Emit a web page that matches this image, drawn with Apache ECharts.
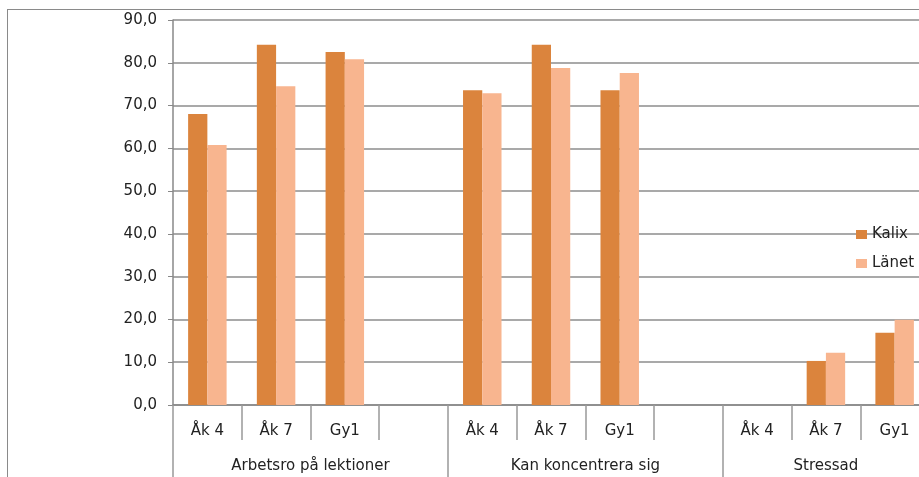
<!DOCTYPE html>
<html>
<head>
<meta charset="utf-8">
<script src="https://cdn.jsdelivr.net/npm/echarts@6/dist/echarts.min.js"></script>
<style>
html,body{margin:0;padding:0;background:#fff;}
#wrap{position:relative;width:919px;height:477px;overflow:hidden;}
#frame{position:absolute;left:7px;top:9px;width:940px;height:500px;border-left:1px solid #8a8a8a;border-top:1px solid #8a8a8a;}
#chart{position:absolute;left:0;top:0;width:940px;height:477px;}
</style>
</head>
<body>
<div id="wrap"><div id="frame"></div><div id="chart"></div></div>
<script>
// Data
const categories = ['Åk 4','Åk 7','Gy1','','Åk 4','Åk 7','Gy1','','Åk 4','Åk 7','Gy1'];
const groupNames = ['Arbetsro på lektioner','Kan koncentrera sig','Stressad'];
const groupBoundaries = [0, 4, 8, 11];
const groupCenters = [2, 6, 9.5];
const kalix = [68.0, 84.2, 82.5, null, 73.6, 84.2, 73.6, null, null, 10.3, 16.9];
const lanet = [60.8, 74.5, 80.8, null, 72.9, 78.8, 77.6, null, null, 12.2, 19.9];
const yTicks = [0, 10, 20, 30, 40, 50, 60, 70, 80, 90];

const FONT = 'DejaVu Sans';
const chart = echarts.init(document.getElementById('chart'), null, {renderer:'canvas'});
const labelMap = {};
groupCenters.forEach((c,i)=>{ labelMap[c] = groupNames[i]; });

chart.setOption({
  animation: false,
  textStyle: {fontFamily: FONT},
  grid: {left: 173, top: 20, bottom: 72, right: 11, containLabel: false},
  legend: {
    orient: 'vertical', left: 851, top: 222,
    itemWidth: 11, itemHeight: 9, itemGap: 14,
    icon: 'rect',
    textStyle: {fontFamily: FONT, fontSize: 15, color: '#222'},
    data: ['Kalix','Länet']
  },
  xAxis: [{
    type: 'category',
    data: categories,
    axisLine: {lineStyle: {color: '#888', width: 1.5}},
    axisTick: {show: true, interval: 0, length: 35, lineStyle: {color: '#999', width: 1.5}},
    axisLabel: {color: '#222', fontSize: 15, fontFamily: FONT, margin: 19, interval: 0}
  }, {
    type: 'value',
    min: 0, max: 11,
    position: 'bottom',
    splitLine: {show: false},
    axisLine: {show: false},
    axisTick: {show: true, customValues: groupBoundaries, length: 75, lineStyle: {color: '#999', width: 1.5}},
    axisLabel: {customValues: groupCenters, color: '#222', fontSize: 15, fontFamily: FONT, margin: 54,
      formatter: v => labelMap[v] || ''}
  }],
  yAxis: {
    type: 'value', min: 0, max: 90, interval: 10,
    axisLine: {show: true, lineStyle: {color: '#888', width: 1.5}},
    axisTick: {show: true, length: 5, lineStyle: {color: '#888'}},
    splitLine: {lineStyle: {color: '#8c8c8c', width: 1.5}},
    axisLabel: {color: '#222', fontSize: 15, fontFamily: FONT, margin: 16,
      formatter: v => v.toFixed(1).replace('.', ',')}
  },
  series: [{
    name: 'Kalix', type: 'bar', data: kalix, xAxisIndex: 0,
    barGap: '0%', barCategoryGap: '44%',
    itemStyle: {color: '#DB843D'}
  }, {
    name: 'Länet', type: 'bar', data: lanet, xAxisIndex: 0,
    itemStyle: {color: '#F8B58F'}
  }]
});
</script>
</body>
</html>
